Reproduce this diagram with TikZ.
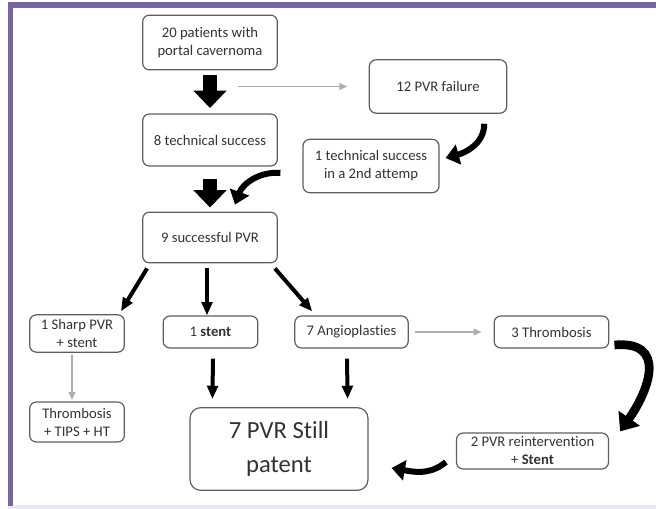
\documentclass[tikz,border=0pt]{standalone}
\usepackage{fontspec}
\setmainfont{Carlito}[Ligatures=NoCommon]
\usetikzlibrary{positioning, arrows.meta, calc}
\definecolor{frame}{HTML}{7564A0}
\definecolor{framelight}{HTML}{ECE4F7}
\definecolor{boxline}{HTML}{5E5E5E}
\definecolor{boxtext}{HTML}{333333}
\tikzset{
  box/.style    = {draw=boxline, rounded corners=5pt, line width=0.9pt, align=center,
                   inner sep=1.5pt, text=boxtext, font=\fontsize{11}{13.5}\selectfont},
  bigbox/.style = {box, rounded corners=8pt, font=\fontsize{18.5}{25}\selectfont},
  fat/.style    = {-{Triangle[length=13pt,width=24pt]}, line width=11pt, black},
  bent/.style   = {-{Triangle[length=10pt,width=15pt]}, line width=4.5pt, black},
  bigbent/.style= {-{Triangle[length=12pt,width=19pt]}, line width=6.5pt, black},
  ar/.style     = {-{Triangle[length=10pt,width=8pt]}, line width=3pt, black},
  pale/.style   = {-{Triangle[length=6pt,width=5pt]}, line width=1.4pt, black!32},
}

\begin{document}
\begin{tikzpicture}[x=0.75pt, y=-0.75pt]
  \useasboundingbox (0,0) rectangle (656,509);
  % frame
  \fill[framelight] (8,505) rectangle (656,509);
  \fill[frame] (8,2) rectangle (656,8);
  \fill[frame] (8,2) rectangle (13,506);

  % boxes
  \node[box, minimum width=101pt, minimum height=41pt] (pat) at (210,42.5) {20 patients with\\portal cavernoma};
  \node[box, minimum width=103pt, minimum height=40pt] (fail) at (438,86.5) {12 PVR failure};
  \node[box, minimum width=101pt, minimum height=39pt] (tech) at (210,140) {8 technical success};
  \node[box, minimum width=102pt, minimum height=40pt] (second) at (371,166) {1 technical success\\in a 2nd attemp};
  \node[box, minimum width=101pt, minimum height=38pt] (succ) at (210,237.5) {9 successful PVR};
  \node[box, minimum width=71pt, minimum height=28pt] (sharp) at (77,333.5) {1 Sharp PVR\\+ stent};
  \node[box, minimum width=71pt, minimum height=24pt] (stent) at (210.5,332) {1 \textbf{stent}};
  \node[box, minimum width=85pt, minimum height=24pt] (angio) at (351.5,332) {7 Angioplasties};
  \node[box, minimum width=86pt, minimum height=24pt] (thromb) at (551.5,332) {3 Thrombosis};
  \node[box, minimum width=71pt, minimum height=30pt] (tips) at (77,422) {Thrombosis\\+ TIPS + HT};
  \node[bigbox, minimum width=133.5pt, minimum height=62pt] (patent) at (279,449) {7 PVR Still\\patent};
  \node[box, minimum width=114pt, minimum height=27pt] (reint) at (532.5,451) {2 PVR reintervention\\+ \textbf{Stent}};

  % connectors
  \draw[fat, shorten <=3.5pt, shorten >=4pt] (pat) -- (tech);
  \draw[fat, shorten <=9pt, shorten >=3pt] (tech) -- (succ);
  \coordinate (fork) at (238,86.5);
  \draw[pale, shorten >=16pt] (fork) -- (fail);
  \draw[bent] ($(fail.south east)+(-23,10)$) to[out=-90, in=15] ($(second.east)+(6,-8)$);
  \draw[bent] ($(second.west)+(-22,7)$) to[out=175, in=70] ($(succ.north)+(25,-7)$);
  \draw[ar] ($(succ.south west)+(5,5)$) -- ($(sharp.north east)+(-4,-3)$);
  \draw[ar] ($(succ.south)+(-3,5)$) -- ($(stent.north)+(-3.5,0)$);
  \draw[ar] ($(succ.south east)+(-3,5)$) -- ($(angio.north west)+(18,-4)$);
  \draw[pale, shorten <=5pt, shorten >=9pt] (angio) -- (thromb);
  \draw[pale, shorten <=2pt, shorten >=1pt] ($(sharp.south)+(-5,0)$) -- ($(tips.north)+(-5,0)$);
  \draw[ar] ($(stent.south)+(2.5,10)$) -- ($(patent.north west)+(23,-8)$);
  \draw[ar] ($(angio.south)+(-4.5,10)$) -- ($(patent.north east)+(-21,-8)$);
  \draw[bigbent] ($(thromb.east)+(5,13)$) to[out=5, in=55, looseness=1.55] ($(reint.north east)+(11,-1)$);
  \draw[bent] ($(reint.west)+(-10,11)$) to[out=-140, in=-10] ($(patent.east)+(23,19)$);
\end{tikzpicture}
\end{document}
